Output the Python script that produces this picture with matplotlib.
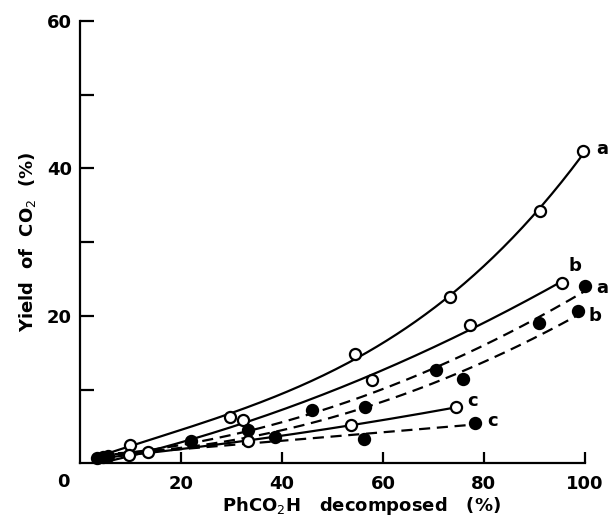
import numpy as np
import matplotlib
matplotlib.use("Agg")
import matplotlib.pyplot as plt

# open circles (solid curves)
open_a_x = [9.9, 29.8, 54.5, 73.3, 91.1, 99.7]
open_a_y = [2.5, 6.3, 14.8, 22.6, 34.2, 42.3]
open_b_x = [13.5, 32.3, 57.8, 77.2, 95.4]
open_b_y = [1.5, 5.9, 11.3, 18.7, 24.5]
open_c_x = [9.8, 33.3, 53.6, 74.5]
open_c_y = [1.15, 3.1, 5.2, 7.6]

# filled circles (dashed curves)
filled_a_x = [3.3, 22.0, 45.9, 70.6, 90.9, 100.0]
filled_a_y = [0.7, 3.1, 7.2, 12.6, 19.1, 24.1]
filled_b_x = [4.6, 33.3, 56.4, 75.9, 98.7]
filled_b_y = [0.9, 4.5, 7.6, 11.4, 20.7]
filled_c_x = [5.6, 38.6, 56.2, 78.2]
filled_c_y = [1.0, 3.6, 3.3, 5.5]

x_ticks = [20, 40, 60, 80, 100]
y_ticks = [20, 40, 60]
y_minor = [10, 30, 50]

curve_start = 4.0
font = dict(family="DejaVu Sans", weight="bold")

fig = plt.figure(figsize=(6.09, 5.19), dpi=100)
ax = fig.add_axes([0.1314, 0.107, 0.829, 0.853])
ax.set_xlim(0, 100)
ax.set_ylim(0, 60)


def curve(xs, ys, deg, filled, label, lx, ly):
    coef = np.polyfit(xs, ys, deg)
    xx = np.linspace(min(curve_start, xs[0]), xs[-1], 200)
    ls = (0, (5, 3)) if filled else "-"
    ax.plot(xx, np.polyval(coef, xx), color="black", lw=1.6, linestyle=ls,
            clip_on=False, zorder=2)
    ax.plot(xs, ys, "o", ms=8, mew=1.6, mec="black",
            mfc="black" if filled else "white", clip_on=False, zorder=3)
    ax.text(lx, ly, label, ha="center", va="center", fontsize=13,
            clip_on=False, **font)


curve(open_a_x, open_a_y, 3, False, "a", 103.5, 42.6)
curve(open_b_x, open_b_y, 2, False, "b", 98.0, 26.8)
curve(open_c_x, open_c_y, 2, False, "c", 77.8, 8.4)
curve(filled_a_x, filled_a_y, 2, True, "a", 103.5, 23.8)
curve(filled_b_x, filled_b_y, 2, True, "b", 102.0, 20.0)
curve(filled_c_x, filled_c_y, 2, True, "c", 81.8, 5.8)

for s in ("top", "right"):
    ax.spines[s].set_visible(False)
for s in ("left", "bottom"):
    ax.spines[s].set_linewidth(1.6)

ax.set_xticks(x_ticks)
ax.set_xticklabels([str(v) for v in x_ticks], fontsize=13, **font)
ax.set_yticks(y_ticks)
ax.set_yticklabels([str(v) for v in y_ticks], fontsize=13, **font)
ax.set_yticks(y_minor, minor=True)
ax.tick_params(axis="x", direction="in", length=8, width=1.6, pad=8)
ax.tick_params(axis="y", which="both", direction="in", length=10, width=1.6, pad=6)
ax.text(-3.2, -2.45, "0", ha="center", va="center", fontsize=13, clip_on=False, **font)

fig.text(0.594, 2 / 519, "PhCO$_2$H   decomposed   (%)", ha="center",
         va="bottom", fontsize=13, **font)
ax.set_ylabel("Yield  of  CO$_2$  (%)", fontsize=13, labelpad=6, **font)

fig.savefig("out.png", dpi=100)
